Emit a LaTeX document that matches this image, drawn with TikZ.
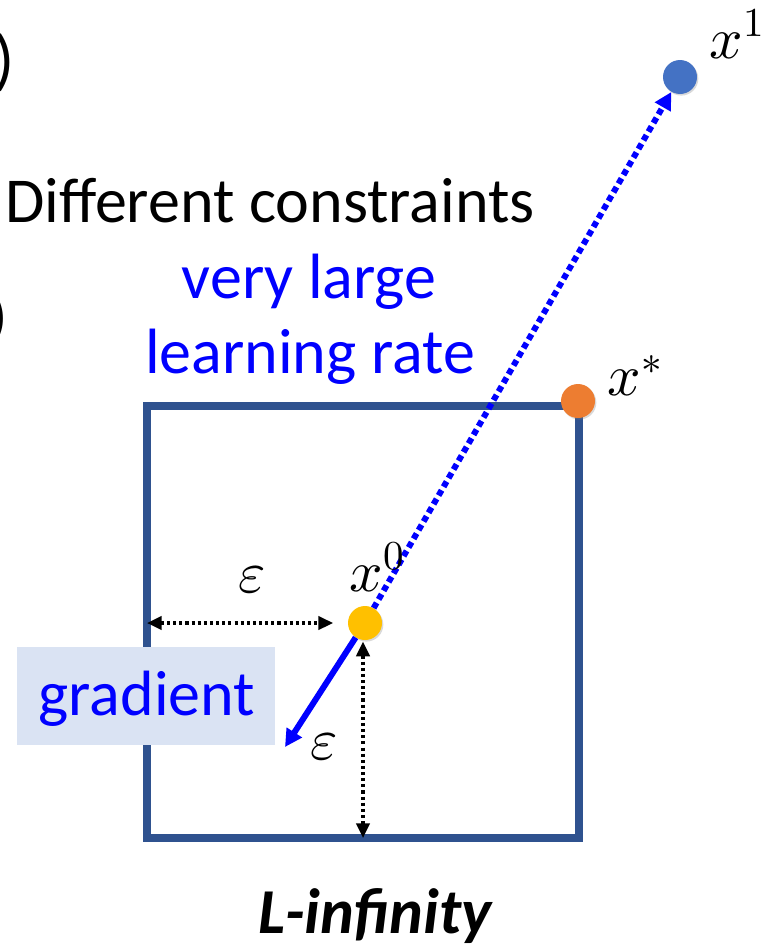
\documentclass[tikz,border=0pt]{standalone}
\usepackage{fontspec}
\usepackage{unicode-math}
\setmainfont{Carlito}
\setmathfont{Latin Modern Math}
\usetikzlibrary{arrows.meta,positioning,shadows}
\definecolor{frameBlue}{HTML}{2F528F}
\definecolor{gradFill}{HTML}{DAE3F3}
\definecolor{dotYellow}{HTML}{FFC000}
\definecolor{dotOrange}{HTML}{ED7D31}
\definecolor{dotBlue}{HTML}{4472C4}
\definecolor{pureBlue}{HTML}{0000FF}
\tikzset{
  dot/.style={circle,inner sep=0pt,minimum size=25.5pt,
    drop shadow={shadow xshift=1pt,shadow yshift=-1.2pt,opacity=0.3}},
  mathlbl/.style={inner sep=0pt,font=\fontsize{44}{52}\selectfont},
  bigtext/.style={inner sep=0pt,anchor=base,font=\fontsize{48}{58}\selectfont},
  epsarrow/.style={black,line width=2.3pt,dash pattern=on 2.3pt off 2.3pt,
    {Triangle[length=11pt,width=10pt]}-{Triangle[length=11pt,width=10pt]}},
}

\begin{document}
\begin{tikzpicture}[x=0.75pt,y=-0.75pt]
  \useasboundingbox (0,0) rectangle (779,946);

  % cut-off brackets at the left border
  \node[inner sep=0pt,anchor=east,font=\fontsize{50}{60}\selectfont] (brTop) at (15,63) {)};
  \node[inner sep=0pt,anchor=east,font=\fontsize{42}{50}\selectfont] (brMid) at (8,319) {)};

  % constraint box
  \draw[frameBlue,line width=6pt] (147,406) rectangle (579,838);
  \coordinate (leftEdge) at (147,623);
  \coordinate (bottomEdge) at (363,838);

  % texts
  \node[bigtext] (title) at (270,222) {Different constraints};
  \node[bigtext,text=pureBlue] (lrA) at (309,298) {very large};
  \node[bigtext,text=pureBlue] (lrB) at (310,373) {learning rate};
  \node[inner sep=0pt,anchor=base,font=\fontsize{48}{58}\selectfont\bfseries\itshape] (norm) at (375,933) {L-infinity};
  \node[fill=gradFill,minimum width=193.5pt,minimum height=73.5pt,inner sep=0pt] (grad) at (146,696) {};
  \node[bigtext,text=pureBlue] (gradtxt) at (147,715) {gradient};

  % points
  \node[dot,fill=dotYellow] (x0) at (365,623) {};
  \node[dot,fill=dotOrange] (xstar) at (578,401) {};
  \node[dot,fill=dotBlue] (x1) at (680,77) {};
  \coordinate (gradTip) at (285,747);

  % arrows
  \draw[epsarrow,shorten >=11pt] (leftEdge) -- (x0.west);
  \draw[epsarrow,shorten <=1pt] (x0.south -| bottomEdge) -- (bottomEdge);
  \draw[pureBlue,line width=4.5pt,-{Triangle[length=13pt,width=13pt]}] (x0) -- (gradTip);
  \draw[pureBlue,line width=4.5pt,dash pattern=on 4.5pt off 3pt,
    -{Triangle[length=13pt,width=13pt]}] (x0) -- (x1);

  % labels
  \node[mathlbl] (x0lbl) at (377,567) {$x^0$};
  \node[mathlbl] (xstarlbl) at (635,376) {$x^*$};
  \node[mathlbl] (x1lbl) at (737,34) {$x^1$};
  \node[mathlbl] (epsH) at (252,580) {$\varepsilon$};
  \node[mathlbl] (epsV) at (324,747) {$\varepsilon$};
\end{tikzpicture}
\end{document}
